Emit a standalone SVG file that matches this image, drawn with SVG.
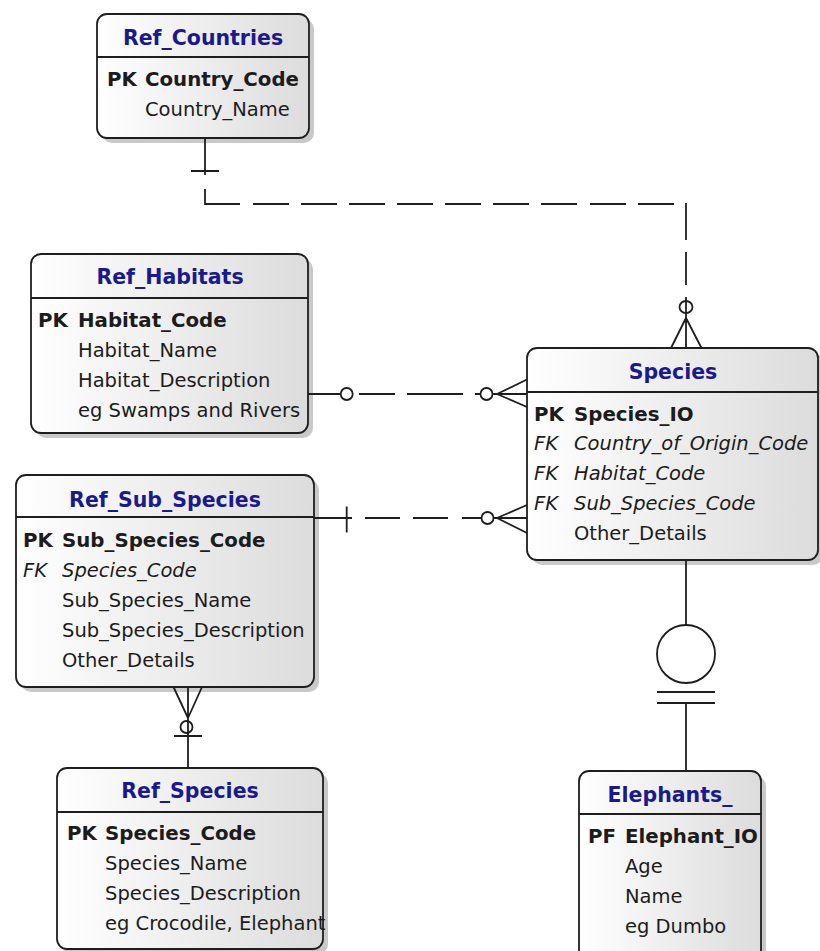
<svg xmlns="http://www.w3.org/2000/svg" width="820" height="951" viewBox="0 0 820 951">
<defs>
<linearGradient id="fillg" x1="0" y1="0" x2="1" y2="0">
<stop offset="0" stop-color="#ffffff"/>
<stop offset="1" stop-color="#dcdcdc"/>
</linearGradient>
</defs>
<style>
.shadow{fill:#c9c9c9}
.box{fill:url(#fillg);stroke:#1e1e1e;stroke-width:1.8}
.div{stroke:#1e1e1e;stroke-width:1.8}
text{font-family:"DejaVu Sans","Liberation Sans",sans-serif;font-size:19.5px;fill:#1c1c1c}
.title{font-weight:bold;font-size:20.5px;fill:#1a1a8c;text-anchor:middle}
.pk{font-weight:bold;font-size:19.8px}
.fk{font-style:italic}
.ln{fill:none;stroke:#1e1e1e;stroke-width:1.8}
</style>
<rect width="820" height="951" fill="#ffffff"/>

<g id="Ref_Countries">
<rect class="shadow" x="102" y="19" width="212" height="124" rx="10"/>
<rect class="box" x="97" y="14" width="212" height="124" rx="10"/>
<line class="div" x1="97" y1="57" x2="309" y2="57"/>
<text class="title" x="203" y="45">Ref_Countries</text>
<text class="pk" x="107" y="86">PK</text>
<text class="pk" x="145" y="86">Country_Code</text>
<text x="145" y="116">Country_Name</text>
</g>

<g id="Ref_Habitats">
<rect class="shadow" x="36" y="259" width="277" height="179" rx="10"/>
<rect class="box" x="31" y="254" width="277" height="179" rx="10"/>
<line class="div" x1="31" y1="298" x2="308" y2="298"/>
<text class="title" x="170" y="284">Ref_Habitats</text>
<text class="pk" x="38" y="327">PK</text>
<text class="pk" x="78" y="327">Habitat_Code</text>
<text x="78" y="357">Habitat_Name</text>
<text x="78" y="387">Habitat_Description</text>
<text x="78" y="417">eg Swamps and Rivers</text>
</g>

<g id="Ref_Sub_Species">
<rect class="shadow" x="21" y="480" width="298" height="212" rx="10"/>
<rect class="box" x="16" y="475" width="298" height="212" rx="10"/>
<line class="div" x1="16" y1="517" x2="314" y2="517"/>
<text class="title" x="165" y="507">Ref_Sub_Species</text>
<text class="pk" x="23" y="547">PK</text>
<text class="pk" x="62" y="547">Sub_Species_Code</text>
<text class="fk" x="23" y="577">FK</text>
<text class="fk" x="62" y="577">Species_Code</text>
<text x="62" y="607">Sub_Species_Name</text>
<text x="62" y="637">Sub_Species_Description</text>
<text x="62" y="667">Other_Details</text>
</g>

<g id="Ref_Species">
<rect class="shadow" x="62" y="773" width="266" height="181" rx="10"/>
<rect class="box" x="57" y="768" width="266" height="181" rx="10"/>
<line class="div" x1="57" y1="812" x2="323" y2="812"/>
<text class="title" x="190" y="798">Ref_Species</text>
<text class="pk" x="67" y="840">PK</text>
<text class="pk" x="105" y="840">Species_Code</text>
<text x="105" y="870">Species_Name</text>
<text x="105" y="900">Species_Description</text>
<text x="105" y="930">eg Crocodile, Elephant</text>
</g>

<g id="Species">
<rect class="shadow" x="532" y="353" width="291" height="212" rx="10"/>
<rect class="box" x="527" y="348" width="291" height="212" rx="10"/>
<line class="div" x1="527" y1="392" x2="818" y2="392"/>
<text class="title" x="673" y="379">Species</text>
<text class="pk" x="534" y="421">PK</text>
<text class="pk" x="574" y="421">Species_IO</text>
<text class="fk" x="534" y="450">FK</text>
<text class="fk" x="574" y="450">Country_of_Origin_Code</text>
<text class="fk" x="534" y="480">FK</text>
<text class="fk" x="574" y="480">Habitat_Code</text>
<text class="fk" x="534" y="510">FK</text>
<text class="fk" x="574" y="510">Sub_Species_Code</text>
<text x="574" y="540">Other_Details</text>
</g>

<g id="Elephants_">
<rect class="shadow" x="584" y="776" width="182" height="190" rx="10"/>
<rect class="box" x="579" y="771" width="182" height="190" rx="10"/>
<line class="div" x1="579" y1="814" x2="761" y2="814"/>
<text class="title" x="670" y="802">Elephants_</text>
<text class="pk" x="588" y="843">PF</text>
<text class="pk" x="625" y="843">Elephant_IO</text>
<text x="625" y="873">Age</text>
<text x="625" y="903">Name</text>
<text x="625" y="933">eg Dumbo</text>
</g>

<g id="connectors">
<path class="ln" d="M205 138V175M191 171H219"/>
<path class="ln" d="M205 189V204H240M253 204H289M301 204H337M349 204H385M397 204H433M445 204H481M493 204H529M541 204H577M590 204H626M638 204H674M686 203V240M686 252V285"/>
<path class="ln" d="M686 297V348M686 318L671 348M686 318L701.5 348"/>
<ellipse class="ln" cx="686" cy="307" rx="6.5" ry="6"/>

<path class="ln" d="M308 394H340.5M359 394H395M407 394H463M475 394H480"/>
<circle class="ln" cx="346.7" cy="394" r="6"/>
<circle class="ln" cx="486.5" cy="394" r="6"/>
<path class="ln" d="M492.5 394H527M497 394L527 379.5M497 394L527 407"/>

<path class="ln" d="M314 518H352M346.7 506.5V532.5M365 518H400M413 518H448M462 518H481.5"/>
<circle class="ln" cx="487.5" cy="518" r="6"/>
<path class="ln" d="M493.5 518H527M497 518L527 505M497 518L527 533"/>

<path class="ln" d="M188 687V768M188 718L173.5 687M188 718L202 687M174 736H202"/>
<circle class="ln" cx="186.5" cy="727" r="6"/>

<path class="ln" d="M686 560V625M657 692H715M657 703H715M686 703V771"/>
<circle class="ln" cx="686" cy="654" r="29"/>
</g>
</svg>
